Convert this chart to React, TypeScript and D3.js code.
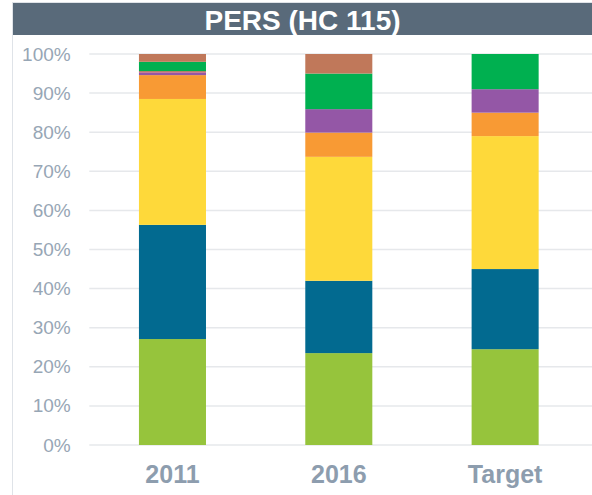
import React, { useEffect, useRef } from 'react';
import * as d3 from 'd3';

const categories = ['2011', '2016', 'Target'];
const seriesNames = ['lime', 'blue', 'yellow', 'orange', 'purple', 'red', 'green', 'brown'];
const lime = [27.1, 23.5, 24.5];
const blue = [29.2, 18.5, 20.5];
const yellow = [32.2, 31.7, 34.0];
const orange = [6.1, 6.2, 6.0];
const purple = [0.7, 6.0, 6.0];
const red = [0.3, 0, 0];
const green = [2.4, 9.1, 9.0];
const brown = [2.0, 5.0, 0];
const yTicks = [0, 10, 20, 30, 40, 50, 60, 70, 80, 90, 100];
const title = 'PERS (HC 115)';

const colors = ['#96c43c', '#026a90', '#fed93a', '#f89a34', '#9457a6', '#d9534f', '#00b050', '#c0785a'];

const App = () => {
  const ref = useRef<SVGSVGElement>(null);

  useEffect(() => {
    const svg = d3.select(ref.current);
    svg.selectAll('*').remove();

    const W = 592;
    const H = 495;
    const left = 89.3;
    const right = 588.3;
    const top = 54;
    const bottom = 445;

    // frame + title bar
    svg.append('rect').attr('x', 0).attr('y', 0).attr('width', W).attr('height', H).attr('fill', '#fff');
    svg.append('line').attr('x1', 12.5).attr('x2', 12.5).attr('y1', 2).attr('y2', H).attr('stroke', '#dfe3e8');
    svg.append('line').attr('x1', 12).attr('x2', W).attr('y1', 2.5).attr('y2', 2.5).attr('stroke', '#dfe3e8');
    svg.append('rect').attr('x', 13).attr('y', 3).attr('width', W - 13).attr('height', 32).attr('fill', '#596a7a');
    svg.append('text')
      .attr('x', (13 + W) / 2)
      .attr('y', 20)
      .attr('text-anchor', 'middle')
      .attr('dominant-baseline', 'central')
      .style('font-family', 'Liberation Sans, Arial, sans-serif')
      .style('font-weight', 'bold')
      .style('font-size', '28px')
      .attr('fill', '#fff')
      .text(title);

    const x = d3.scaleBand<string>()
      .domain(categories)
      .range([left, right])
      .paddingInner(0.597)
      .paddingOuter(0.2985);

    const y = d3.scaleLinear().domain([0, 100]).range([bottom, top]);

    // gridlines
    svg.append('g')
      .selectAll('line')
      .data(yTicks)
      .enter().append('line')
      .attr('x1', left)
      .attr('x2', W)
      .attr('y1', d => y(d))
      .attr('y2', d => y(d))
      .attr('stroke', '#e6e8eb')
      .attr('stroke-width', 1.5);

    // y tick labels
    svg.append('g')
      .selectAll('text')
      .data(yTicks)
      .enter().append('text')
      .attr('x', 70.7)
      .attr('y', d => y(d))
      .attr('text-anchor', 'end')
      .attr('dominant-baseline', 'central')
      .style('font-family', 'Liberation Sans, Arial, sans-serif')
      .style('font-size', '19px')
      .attr('fill', '#97a6b5')
      .text(d => `${d}%`);

    const values = [lime, blue, yellow, orange, purple, red, green, brown];
    const table = categories.map((c, i) => {
      const row: any = { cat: c };
      seriesNames.forEach((s, k) => { row[s] = values[k][i]; });
      return row;
    });
    const stacked = d3.stack().keys(seriesNames)(table);

    svg.append('g')
      .selectAll('g')
      .data(stacked)
      .enter().append('g')
      .attr('fill', (_, k) => colors[k])
      .selectAll('rect')
      .data(d => d)
      .enter().append('rect')
      .attr('x', d => x((d as any).data.cat) as number)
      .attr('width', x.bandwidth())
      .attr('y', d => y(d[1]))
      .attr('height', d => y(d[0]) - y(d[1]));

    // category labels
    svg.append('g')
      .selectAll('text')
      .data(categories)
      .enter().append('text')
      .attr('x', d => (x(d) as number) + x.bandwidth() / 2)
      .attr('y', 483)
      .attr('text-anchor', 'middle')
      .style('font-family', 'Liberation Sans, Arial, sans-serif')
      .style('font-weight', 'bold')
      .style('font-size', '25px')
      .attr('fill', '#8d9dae')
      .text(d => d);
  }, []);

  return (
    <svg ref={ref} width={592} height={495} style={{ position: 'absolute', left: 0, top: 0 }} />
  );
};

export default App;
